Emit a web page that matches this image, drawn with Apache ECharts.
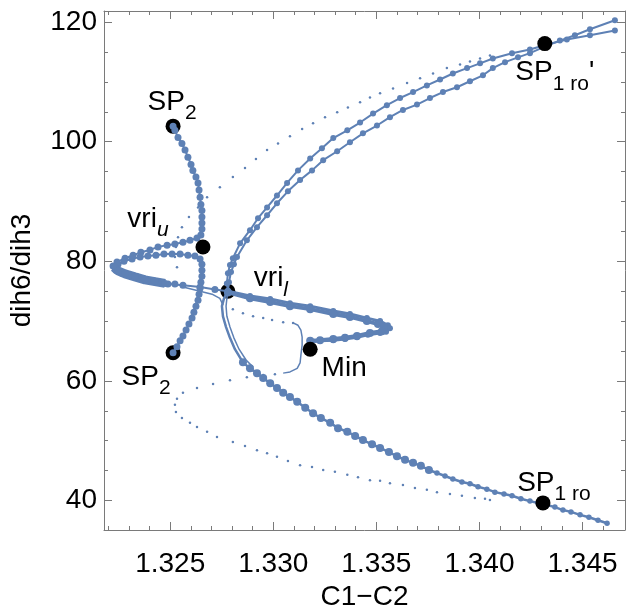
<!DOCTYPE html>
<html>
<head>
<meta charset="utf-8">
<title>C1-C2 vs dih6/dih3</title>
<script src="https://cdn.jsdelivr.net/npm/echarts@6/dist/echarts.min.js"></script>
<style>
  html, body { margin: 0; padding: 0; background: #fff; }
  #chart { width: 628px; height: 607px; }
</style>
</head>
<body>
<div id="chart"></div>
<script>
  // ---- data: [C1-C2, dih6/dih3]
  var arcUpperA = [[1.32780,75.0],[1.32775,76.3],[1.32780,78.0],[1.32790,79.4],[1.32804,80.5],[1.32839,83.0],[1.32887,85.2],[1.32926,87.2],[1.32970,89.0],[1.33018,91.0],[1.33067,93.1],[1.33120,95.2],[1.33179,97.2],[1.33236,98.9],[1.33291,100.6],[1.33359,101.9],[1.33421,103.2],[1.33484,104.7],[1.33551,106.1],[1.33615,107.3],[1.33678,108.3],[1.33745,109.4],[1.33809,110.4],[1.33871,111.4],[1.33940,112.3],[1.34003,113.1],[1.34065,113.9],[1.34158,114.8],[1.34245,115.4],[1.34332,116.3],[1.34424,117.1],[1.34536,117.8],[1.34657,118.6]];
  var arcUpperB = [[1.32780,75.0],[1.32785,76.5],[1.32795,78.2],[1.32809,79.5],[1.32824,80.7],[1.32872,83.5],[1.32921,85.7],[1.32970,87.7],[1.33018,89.7],[1.33071,91.7],[1.33130,93.6],[1.33188,95.2],[1.33242,96.9],[1.33310,98.4],[1.33372,99.9],[1.33435,101.4],[1.33503,102.7],[1.33566,104.1],[1.33629,105.3],[1.33697,106.2],[1.33760,107.3],[1.33823,108.3],[1.33891,109.1],[1.33954,110.1],[1.34017,111.1],[1.34065,112.3],[1.34124,113.3],[1.34187,114.1],[1.34245,114.8],[1.34317,115.9],[1.34390,116.9],[1.34463,117.8],[1.34536,118.8],[1.34657,120.3]];
  var arcLower = [[1.32780,75.0],[1.32761,73.8],[1.32751,72.5],[1.32756,70.8],[1.32771,69.0],[1.32790,67.2],[1.32814,65.3],[1.32853,63.1],[1.32887,62.1],[1.32921,61.3],[1.32951,60.5],[1.32985,59.6],[1.33018,58.8],[1.33048,58.0],[1.33081,57.3],[1.33116,56.5],[1.33155,55.5],[1.33193,54.6],[1.33231,53.8],[1.33276,53.0],[1.33314,52.1],[1.33359,51.5],[1.33397,50.8],[1.33435,50.1],[1.33479,49.4],[1.33518,48.8],[1.33561,48.1],[1.33600,47.4],[1.33639,46.8],[1.33678,46.3],[1.33716,45.8],[1.33755,45.1],[1.33794,44.6],[1.33833,44.1],[1.33871,43.6],[1.33915,43.1],[1.33954,42.8],[1.33993,42.3],[1.34036,41.9],[1.34075,41.4],[1.34119,41.1],[1.34158,40.8],[1.34201,40.3],[1.34245,39.9],[1.34284,39.6],[1.34323,39.3],[1.34366,38.9],[1.34405,38.4],[1.34444,38.1],[1.34488,37.6],[1.34531,37.2],[1.34575,36.7],[1.34619,36.2]];
  var arcLowerInner = [[1.32780,75.0],[1.32775,73.8],[1.32771,72.5],[1.32775,70.8],[1.32790,69.0],[1.32809,67.2],[1.32834,65.3],[1.32868,63.5],[1.32902,62.3]];
  var loopRightA = [[1.32780,75.0],[1.32887,74.2],[1.32985,73.7],[1.33081,73.0],[1.33179,72.5],[1.33291,71.7],[1.33372,71.2],[1.33454,70.5],[1.33518,70.0],[1.33556,69.3],[1.33566,68.8],[1.33547,68.2],[1.33518,68.0],[1.33459,67.7],[1.33406,67.3],[1.33348,67.0],[1.33291,66.8],[1.33227,66.7],[1.33179,66.5]];
  var loopRightB = [[1.32780,74.8],[1.32887,73.8],[1.32985,73.2],[1.33081,72.5],[1.33179,72.0],[1.33291,71.2],[1.33372,70.7],[1.33454,70.0],[1.33508,69.5],[1.33537,69.0],[1.33527,68.3],[1.33469,68.0],[1.33406,67.5],[1.33348,67.2],[1.33291,67.0],[1.33227,66.8],[1.33179,66.7]];
  var loopLeftA = [[1.32514,102.6],[1.32523,101.9],[1.32538,100.7],[1.32557,99.7],[1.32572,98.6],[1.32586,97.4],[1.32601,96.2],[1.32610,95.2],[1.32625,94.1],[1.32635,93.1],[1.32640,91.9],[1.32645,90.7],[1.32649,89.5],[1.32654,88.5],[1.32654,87.4],[1.32654,86.4],[1.32654,85.4],[1.32649,84.4],[1.32630,83.9],[1.32596,83.5],[1.32562,83.2],[1.32523,82.9],[1.32485,82.7],[1.32441,82.4],[1.32402,81.9],[1.32358,81.5],[1.32320,81.0],[1.32281,80.5],[1.32242,79.9],[1.32223,79.2],[1.32237,78.5],[1.32266,78.0],[1.32305,77.7],[1.32339,77.4],[1.32387,76.8],[1.32436,76.5],[1.32489,76.2],[1.32562,76.0],[1.32645,75.7],[1.32717,75.3],[1.32780,75.0]];
  var loopLeftB = [[1.32514,64.7],[1.32533,65.7],[1.32548,66.7],[1.32562,67.5],[1.32577,68.5],[1.32591,69.5],[1.32606,70.5],[1.32615,71.5],[1.32625,72.5],[1.32635,73.5],[1.32640,74.5],[1.32645,75.5],[1.32649,76.5],[1.32654,77.5],[1.32654,78.5],[1.32654,79.5],[1.32645,80.4],[1.32620,80.9],[1.32586,81.0],[1.32548,81.2],[1.32509,81.2],[1.32470,81.2],[1.32431,81.0],[1.32392,80.9],[1.32354,80.7],[1.32315,80.4],[1.32276,80.0],[1.32247,79.5],[1.32232,79.0],[1.32247,78.4],[1.32281,77.9],[1.32329,77.4],[1.32378,77.0],[1.32426,76.7],[1.32475,76.3],[1.32523,76.2]];
  var tongue = [[1.32227,79.0],[1.32247,78.4],[1.32281,77.9],[1.32329,77.4],[1.32378,76.9],[1.32426,76.6],[1.32475,76.3]];
  var bridgeLeft = [[1.32562,75.7],[1.32645,75.0],[1.32703,74.5],[1.32741,73.8],[1.32756,72.7]];
  var bridgeMin = [[1.33096,69.7],[1.33120,69.3],[1.33134,68.5],[1.33140,67.3],[1.33140,66.0],[1.33134,64.3],[1.33130,63.0],[1.33116,62.1],[1.33081,61.5],[1.33048,61.3]];
  var dotsUpper = [[1.34051,114.4],[1.34003,113.9],[1.33954,113.4],[1.33906,112.9],[1.33842,112.3],[1.33775,111.4],[1.33712,110.6],[1.33649,109.8],[1.33581,108.9],[1.33518,108.1],[1.33469,107.4],[1.33421,106.6],[1.33362,105.7],[1.33310,104.9],[1.33251,104.1],[1.33193,103.1],[1.33140,102.1],[1.33081,100.9],[1.33023,99.7],[1.32970,98.6],[1.32916,97.1],[1.32863,95.6],[1.32804,94.1],[1.32741,92.4],[1.32679,90.7],[1.32635,89.0],[1.32591,87.4],[1.32557,85.7],[1.32538,84.0],[1.32528,82.4],[1.32523,80.7],[1.32533,79.0]];
  var dotsMiddle = [[1.32804,72.0],[1.32853,71.3],[1.32902,70.8],[1.32951,70.5],[1.32994,70.2],[1.33048,69.8],[1.33096,69.7]];
  var dotsLower = [[1.33008,61.1],[1.32951,61.0],[1.32872,60.6],[1.32790,60.1],[1.32708,59.5],[1.32630,58.8],[1.32562,58.0],[1.32533,57.0],[1.32523,56.0],[1.32528,54.8],[1.32557,53.8],[1.32596,53.0],[1.32630,52.3],[1.32679,51.5],[1.32727,50.6],[1.32804,49.8],[1.32863,49.1],[1.32921,48.4],[1.32970,47.9],[1.33018,47.3],[1.33071,46.6],[1.33130,45.9],[1.33188,45.6],[1.33242,45.1],[1.33299,44.8],[1.33359,44.3],[1.33411,43.9],[1.33469,43.4],[1.33518,43.3],[1.33566,42.9],[1.33629,42.6],[1.33687,42.1],[1.33745,41.8],[1.33794,41.4],[1.33857,41.1],[1.33915,40.8],[1.33978,40.4],[1.34027,40.3],[1.34051,40.1]];

  var markerNames = ['SP2', 'vri_u', 'vri_l', 'SP2', 'Min', 'SP1ro', "SP1ro'"];
  var markerX = [1.32514, 1.32659, 1.32780, 1.32514, 1.33179, 1.34308, 1.34317];
  var markerY = [102.6, 82.4, 75.0, 64.7, 65.3, 39.6, 116.4];

  var xMajorTicks = [1.325, 1.330, 1.335, 1.340, 1.345];
  var xMinorTicks = [1.322, 1.323, 1.324, 1.326, 1.327, 1.328, 1.329, 1.331, 1.332, 1.333, 1.334, 1.336, 1.337, 1.338, 1.339, 1.341, 1.342, 1.343, 1.344, 1.346];
  var yMajorTicks = [40, 60, 80, 100, 120];
  var yMinorTicks = [45, 50, 55, 65, 70, 75, 85, 90, 95, 105, 110, 115];

  // ---- styling
  var FONT = "'Liberation Sans', Arial, sans-serif";
  var BLUE = '#5e81b5';
  var FRAME = '#7a7a7a';
  var xRange = [1.32179, 1.34706];
  var yRange = [35.07, 121.85];

  var labelText = {
    'SP2': '{m|SP}{s|2}',
    'vri_u': '{m|vri}{si|u}',
    'vri_l': '{m|vri}{si|l}',
    'Min': '{m|Min}',
    'SP1ro': '{m|SP}{s|1 ro}',
    "SP1ro'": "{m|SP}{s|1 ro}{m|'}"
  };
  var labelOffset = [[-1, -17], [-55, -21], [43, -6], [-27, 31], [34, 26], [11, -13], [10, 36]];
  var onTop = [false, true, false, false, true, true, true];

  var rich = {
    m: { fontSize: 28, fontFamily: FONT, color: '#000', lineHeight: 30, padding: [0, 0, 8, 0], verticalAlign: 'bottom' },
    s: { fontSize: 21, fontFamily: FONT, color: '#000', lineHeight: 22, padding: [16, 0, 0, 0], verticalAlign: 'bottom' },
    si: { fontSize: 21, fontFamily: FONT, fontStyle: 'italic', color: '#000', lineHeight: 22, padding: [16, 0, 0, 0], verticalAlign: 'bottom' }
  };

  function markerItems(top) {
    var items = [];
    for (var i = 0; i < markerNames.length; i++) {
      if (onTop[i] !== top) continue;
      items.push({
        value: [markerX[i], markerY[i]],
        label: {
          show: true,
          position: 'inside',
          offset: labelOffset[i],
          formatter: labelText[markerNames[i]],
          rich: rich
        }
      });
    }
    return items;
  }

  function frameAxis(kind, pos, range, ticks, len, labels) {
    var ax = {
      type: 'value',
      position: pos,
      min: range[0],
      max: range[1],
      axisLine: { show: labels !== null, lineStyle: { color: FRAME, width: 1 } },
      axisTick: { show: true, inside: true, length: len, customValues: ticks, lineStyle: { color: FRAME, width: 1 } },
      axisLabel: { show: false },
      splitLine: { show: false }
    };
    if (labels) {
      ax.axisLabel = {
        show: true,
        customValues: ticks,
        fontSize: 28,
        fontFamily: FONT,
        color: '#000',
        margin: kind === 'x' ? 20 : 7,
        formatter: function (v) { return kind === 'x' ? v.toFixed(3) : String(Math.round(v)); }
      };
    }
    return ax;
  }

  var xAxes = [
    frameAxis('x', 'bottom', xRange, xMajorTicks, 8, true),
    frameAxis('x', 'bottom', xRange, xMinorTicks, 4, null),
    frameAxis('x', 'top', xRange, xMajorTicks, 8, false),
    frameAxis('x', 'top', xRange, xMinorTicks, 4, null)
  ];
  var yAxes = [
    frameAxis('y', 'left', yRange, yMajorTicks, 8, true),
    frameAxis('y', 'left', yRange, yMinorTicks, 4, null),
    frameAxis('y', 'right', yRange, yMajorTicks, 8, false),
    frameAxis('y', 'right', yRange, yMinorTicks, 4, null)
  ];
  xAxes[0].name = 'C1\u2212C2';
  xAxes[0].nameLocation = 'middle';
  xAxes[0].nameGap = 50;
  xAxes[0].nameTextStyle = { fontSize: 28, fontFamily: FONT, color: '#000' };
  yAxes[0].name = 'dih6/dih3';
  yAxes[0].nameLocation = 'middle';
  yAxes[0].nameGap = 68;
  yAxes[0].nameTextStyle = { fontSize: 28, fontFamily: FONT, color: '#000' };

  function curve(data, width, dot) {
    return {
      type: 'line',
      data: data,
      showSymbol: dot !== 0,
      symbol: 'circle',
      symbolSize: dot,
      lineStyle: { color: BLUE, width: width, opacity: 1 },
      itemStyle: { color: BLUE, opacity: 1 },
      z: 3
    };
  }
  function dots(data) {
    return { type: 'scatter', data: data, symbolSize: 2.5, itemStyle: { color: BLUE, opacity: 1 }, z: 3 };
  }
  function markers(top) {
    return {
      type: 'scatter',
      data: markerItems(top),
      symbolSize: 15,
      itemStyle: { color: '#000', opacity: 1 },
      z: top ? 5 : 2
    };
  }

  // lower arc: thin just below vri_l, big dots in the upper part, smaller further out
  var lowerArc = curve(arcLower, 2.5, 7);
  lowerArc.symbolSize = function (v, p) {
    if (p.dataIndex < 7) return 0;
    return p.dataIndex < 32 ? 8 : 5.5;
  };

  var series = [
    markers(false),
    dots(dotsUpper),
    dots(dotsMiddle),
    dots(dotsLower),
    curve(bridgeMin, 1.5, 0),
    curve(bridgeLeft, 1.5, 0),
    curve(tongue, 9, 0),
    curve(loopLeftA, 2, 7),
    curve(loopLeftB, 2, 7),
    curve(loopRightA, 3, 6),
    curve(loopRightB, 4, 8),
    curve(arcLowerInner, 1.5, 0),
    lowerArc,
    curve(arcUpperA, 2, 6),
    curve(arcUpperB, 2, 6),
    markers(true)
  ];

  var chart = echarts.init(document.getElementById('chart'));
  chart.setOption({
    animation: false,
    backgroundColor: '#fff',
    grid: { left: 104, right: 3, top: 11, bottom: 77, outerBoundsMode: 'none' },
    xAxis: xAxes,
    yAxis: yAxes,
    series: series
  });
</script>
</body>
</html>
